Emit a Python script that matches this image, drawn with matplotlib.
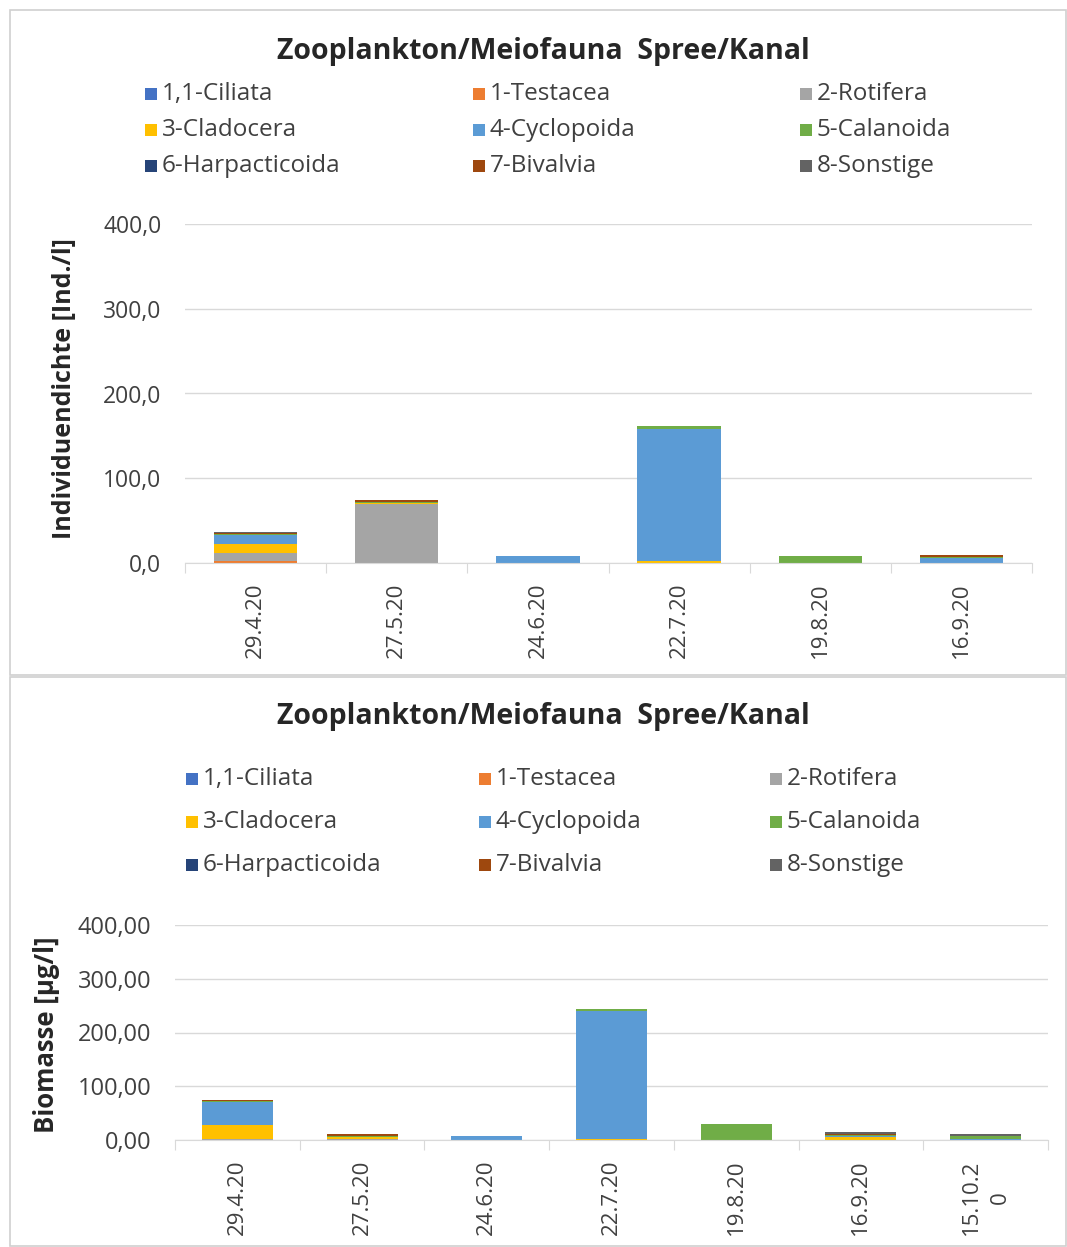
import matplotlib

matplotlib.use('Agg')
import matplotlib.pyplot as plt
import numpy as np
from matplotlib.patches import Rectangle

plt.rcParams['font.family'] = ['Open Sans', 'DejaVu Sans']

# legend / series names and colours (Excel office palette)
groups = ['1,1-Ciliata', '1-Testacea', '2-Rotifera', '3-Cladocera', '4-Cyclopoida',
          '5-Calanoida', '6-Harpacticoida', '7-Bivalvia', '8-Sonstige']
colors = ['#4472C4', '#ED7D31', '#A5A5A5', '#FFC000', '#5B9BD5',
          '#70AD47', '#264478', '#9E480E', '#636363']

# top chart: individual density [Ind./l]
dates_top = ['29.4.20', '27.5.20', '24.6.20', '22.7.20', '19.8.20', '16.9.20']
ind_ciliata = [0, 0, 0, 0, 0, 0]
ind_testacea = [2, 0, 0, 0, 0, 0]
ind_rotifera = [10, 70, 0, 0.5, 0, 0]
ind_cladocera = [11, 1, 0, 2, 0, 0.5]
ind_cyclopoida = [10, 0, 8, 156, 0, 5]
ind_calanoida = [1, 0.5, 0.5, 3, 8, 2]
ind_harpacticoida = [0, 0, 0, 0, 0, 0]
ind_bivalvia = [1, 3, 0, 0, 0, 1.5]
ind_sonstige = [1, 0, 0, 0, 0, 0.5]

# bottom chart: biomass [ug/l]
dates_bot = ['29.4.20', '27.5.20', '24.6.20', '22.7.20', '19.8.20', '16.9.20', '15.10.2\n0']
bio_ciliata = [0, 0, 0, 0, 0, 0, 0]
bio_testacea = [0.5, 0, 0, 0, 0, 0, 0]
bio_rotifera = [1, 1, 0, 0, 0, 0, 0]
bio_cladocera = [27, 5, 0, 2, 0, 6, 0.5]
bio_cyclopoida = [42, 0, 7, 238, 0, 1, 1]
bio_calanoida = [2, 2, 0.5, 3, 30, 3, 6]
bio_harpacticoida = [0, 0, 0, 0, 0, 0, 0]
bio_bivalvia = [1, 3, 0, 0, 0, 2, 0]
bio_sonstige = [1, 1, 0, 0, 0, 2, 3]

top_series = [ind_ciliata, ind_testacea, ind_rotifera, ind_cladocera, ind_cyclopoida,
              ind_calanoida, ind_harpacticoida, ind_bivalvia, ind_sonstige]
bot_series = [bio_ciliata, bio_testacea, bio_rotifera, bio_cladocera, bio_cyclopoida,
              bio_calanoida, bio_harpacticoida, bio_bivalvia, bio_sonstige]

W, H = 1067, 1247
fig = plt.figure(figsize=(W / 100, H / 100), dpi=100)

TXT = '#404040'
GRID = '#D9D9D9'


def fx(px):
    return px / W


def fy(py):
    return 1 - py / H


# panel frames
for y0, y1 in [(10, 675), (677, 1246)]:
    fig.patches.append(Rectangle((fx(10), fy(y1)), fx(1066) - fx(10), fy(y0) - fy(y1),
                                 transform=fig.transFigure, fill=False,
                                 edgecolor='#D0D0D0', lw=1.2))


def draw_chart(rect, dates, series, bar_w, ylabel, fmt, label_xy, label_size, tick_size):
    ax = fig.add_axes(rect)
    x = np.arange(len(dates))
    bottom = np.zeros(len(dates))
    for vals, c in zip(series, colors):
        v = np.array(vals, dtype=float)
        ax.bar(x, v, bar_w, bottom=bottom, color=c, linewidth=0)
        bottom += v
    ax.set_xlim(-0.5, len(dates) - 0.5)
    ax.set_ylim(0, 400)
    ax.set_yticks([0, 100, 200, 300, 400])
    ax.set_yticklabels([fmt.format(t).replace('.', ',') for t in [0, 100, 200, 300, 400]],
                       fontsize=tick_size, color=TXT)
    ax.yaxis.grid(True, color=GRID, lw=1)
    ax.set_axisbelow(True)
    ax.tick_params(axis='y', length=0, pad=17)
    for s in ['top', 'right', 'left']:
        ax.spines[s].set_visible(False)
    ax.spines['bottom'].set_color(GRID)
    # category boundary ticks, labels centred between them
    ax.set_xticks(np.arange(len(dates) + 1) - 0.5, minor=False)
    ax.set_xticklabels([])
    ax.tick_params(axis='x', length=7, color=GRID, direction='out')
    ax.set_xticks(x, minor=True)
    ax.set_xticklabels(dates, minor=True, rotation=90, fontsize=16, color=TXT,
                       linespacing=1.5)
    ax.tick_params(axis='x', which='minor', length=0, pad=14)
    ax.set_ylabel(ylabel, fontsize=label_size, fontweight='bold', color='#262626')
    ax.yaxis.set_label_coords(*label_xy)
    return ax


ax1 = draw_chart([fx(185), fy(563), fx(1032) - fx(185), fy(224) - fy(563)],
                 dates_top, top_series, 0.59, 'Individuendichte [Ind./l]', '{:.1f}',
                 (-0.128, 0.516), 18, 16.5)
ax2 = draw_chart([fx(175), fy(1140), fx(1048) - fx(175), fy(925) - fy(1140)],
                 dates_bot, bot_series, 0.57, 'Biomasse [µg/l]', '{:.2f}',
                 (-0.132, 0.49), 18.5, 17)

# titles
for ty in [52, 716]:
    fig.text(fx(543), fy(ty), 'Zooplankton/Meiofauna  Spree/Kanal', ha='center', va='center',
             fontsize=20.5, fontweight='bold', color='#262626')


def legend(cols_x, rows_y):
    for i, (name, c) in enumerate(zip(groups, colors)):
        r, k = divmod(i, 3)
        mx, my = cols_x[k], rows_y[r]
        fig.patches.append(Rectangle((fx(mx - 6), fy(my + 6)), 12 / W, 12 / H,
                                     transform=fig.transFigure, color=c, lw=0))
        fig.text(fx(mx + 11), fy(my), name, ha='left', va='center', fontsize=17.5, color=TXT)


legend([151, 479, 806], [94, 130, 166])
legend([192, 485, 776], [779, 822, 865])

fig.savefig('out.png', dpi=100, facecolor='white')
